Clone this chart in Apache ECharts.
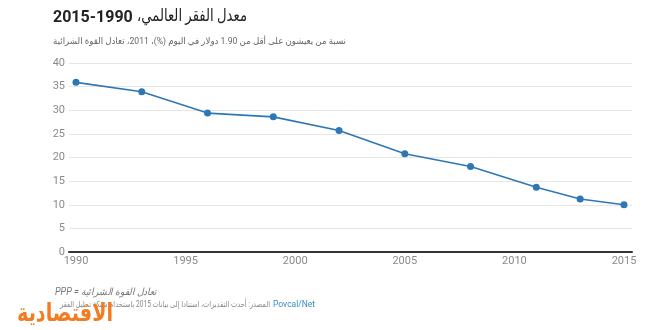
<!DOCTYPE html>
<html>
<head>
<meta charset="utf-8">
<script src="https://cdn.jsdelivr.net/npm/echarts@6/dist/echarts.min.js"></script>
<style>
html,body{margin:0;padding:0;background:#fff;}
#c{width:660px;height:330px;direction:rtl;}
</style>
</head>
<body>
<div id="c"></div>
<script>
var years = [1990, 1993, 1996, 1999, 2002, 2005, 2008, 2011, 2013, 2015];
var povertyRate = [35.9, 33.9, 29.4, 28.6, 25.7, 20.8, 18.1, 13.7, 11.2, 10.0];
var titleYears = '2015-1990';
var titleText = 'معدل الفقر العالمي،';
var subtitleText = 'نسبة من يعيشون على أقل من 1.90 دولار في اليوم (%)، 2011، تعادل القوة الشرائية';
var noteText = 'تعادل القوة الشرائية = PPP';
var sourceText = 'المصدر: أحدث التقديرات، استنادا إلى بيانات 2015 باستخدام شبكة تحليل الفقر';
var sourceLink = 'Povcal/Net';
var logoText = 'الاقتصادية';

var FONT = 'Roboto, "DejaVu Sans", sans-serif';
var mctx = document.createElement('canvas').getContext('2d');
function fitScale(text, font, target) {
  mctx.font = font;
  var w = mctx.measureText(text).width;
  return w > 0 ? target / w : 1;
}

var chart = echarts.init(document.getElementById('c'), null, {renderer: 'canvas'});
var data = years.map(function (y, i) { return [y, povertyRate[i]]; });

var fTitleAr = '17px ' + FONT;
var fSub = '9px ' + FONT;
var fSrc = '8.5px ' + FONT;
var fLogo = 'bold 25px ' + FONT;

chart.setOption({
  backgroundColor: '#fff',
  animation: false,
  textStyle: {fontFamily: FONT},
  grid: [
    {left: 69, right: 28, top: 63, bottom: 78},
    {left: 76, right: 36, top: 63, bottom: 78}
  ],
  xAxis: [
    {gridIndex: 0, type: 'value', min: 0, max: 1,
     axisLine: {show: true, lineStyle: {color: '#333', width: 2}},
     axisTick: {show: false}, axisLabel: {show: false}, splitLine: {show: false}},
    {gridIndex: 1, type: 'value', min: 1990, max: 2015, interval: 5,
     axisLine: {show: false}, axisTick: {show: false}, splitLine: {show: false},
     axisLabel: {color: '#8a8a8a', fontSize: 11, margin: 4, fontFamily: FONT,
                 formatter: function (v) { return String(v); }}}
  ],
  yAxis: [
    {gridIndex: 0, type: 'value', min: 0, max: 40, interval: 5,
     axisLine: {show: false}, axisTick: {show: false},
     axisLabel: {color: '#8a8a8a', fontSize: 11, margin: 4, fontFamily: FONT},
     splitLine: {show: true, lineStyle: {color: '#e6e6e6', width: 1}}},
    {gridIndex: 1, type: 'value', min: 0, max: 40, show: false}
  ],
  series: [{
    type: 'line', xAxisIndex: 1, yAxisIndex: 1, data: data,
    symbol: 'circle', symbolSize: 7,
    lineStyle: {color: '#2e77b5', width: 1.6},
    itemStyle: {color: '#2e77b5'}
  }],
  graphic: [
    {type: 'text', x: 53, y: 18, style: {text: titleYears, font: 'bold 16px ' + FONT, fill: '#222', align: 'left', verticalAlign: 'middle'}},
    {type: 'text', x: 247, y: 17, scaleX: fitScale(titleText, fTitleAr, 110),
     style: {text: titleText, font: fTitleAr, fill: '#222', align: 'right', verticalAlign: 'middle'}},
    {type: 'text', x: 53, y: 42, scaleX: fitScale(subtitleText, fSub, 293),
     style: {text: subtitleText, font: fSub, fill: '#666', align: 'left', verticalAlign: 'middle'}},
    {type: 'text', x: 55, y: 292, scaleX: fitScale(noteText, 'italic 10px ' + FONT, 102),
     style: {text: noteText, font: 'italic 10px ' + FONT, fill: '#777', align: 'left', verticalAlign: 'middle'}},
    {type: 'text', x: 273, y: 305, style: {text: sourceLink, font: fSrc, fill: '#3b8cc4', align: 'left', verticalAlign: 'middle'}},
    {type: 'text', x: 270, y: 305, scaleX: fitScale(sourceText, fSrc, 210),
     style: {text: sourceText, font: fSrc, fill: '#888', align: 'right', verticalAlign: 'middle'}},
    {type: 'text', x: 113, y: 315, scaleX: fitScale(logoText, fLogo, 96),
     style: {text: logoText, font: fLogo, fill: '#f47b20', align: 'right', verticalAlign: 'middle'}}
  ]
});
</script>
</body>
</html>
